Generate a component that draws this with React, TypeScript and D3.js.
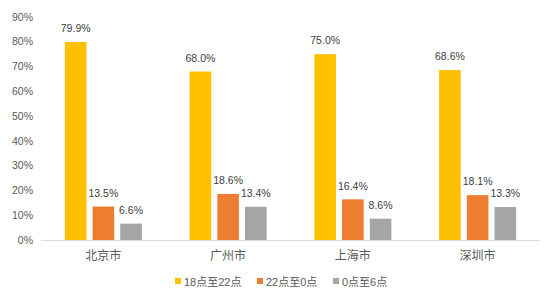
import React from "react";
import * as d3 from "d3";

const categories = ["北京市", "广州市", "上海市", "深圳市"];
const seriesNames = ["18点至22点", "22点至0点", "0点至6点"];
const s1 = [79.9, 68.0, 75.0, 68.6];
const s2 = [13.5, 18.6, 16.4, 18.1];
const s3 = [6.6, 13.4, 8.6, 13.3];
const yTicks = [0, 10, 20, 30, 40, 50, 60, 70, 80, 90];
const colors = ["#FFC000", "#ED7D31", "#A5A5A5"];

export default function App() {
  const W = 560, H = 298;
  const left = 41, right = 540, top = 17, bottom = 240;
  const font = "'Liberation Sans', 'Noto Sans CJK SC', sans-serif";
  const x = d3.scaleBand().domain(categories).range([left, right]).paddingInner(0).paddingOuter(0);
  const y = d3.scaleLinear().domain([0, 90]).range([bottom, top]);
  const groupW = 77;
  const inner = d3.scaleBand().domain(["0", "1", "2"]).range([0, groupW]).paddingInner(0.22).paddingOuter(0);
  const series = [s1, s2, s3];
  const legendX = [175, 257, 333];
  return (
    <svg width={W} height={H} style={{ position: "absolute", left: 0, top: 0, background: "#fff" }} fontFamily={font}>
      {yTicks.map((t) => (
        <text key={t} x={33} y={y(t)} dy="0.35em" textAnchor="end" fontSize={10.5} fill="#595959">
          {t}%
        </text>
      ))}
      {categories.map((c, ci) => {
        const gx = (x(c) as number) + x.bandwidth() / 2 - groupW / 2;
        return (
          <g key={c}>
            {series.map((s, si) => {
              const bx = gx + (inner(String(si)) as number);
              const bw = inner.bandwidth();
              return (
                <g key={si}>
                  <rect x={bx} y={y(s[ci])} width={bw} height={bottom - y(s[ci])} fill={colors[si]} />
                  <text x={bx + bw / 2} y={y(s[ci]) - 13.5} dy="0.35em" textAnchor="middle" fontSize={10.5} fill="#404040">
                    {s[ci].toFixed(1)}%
                  </text>
                </g>
              );
            })}
            <text x={(x(c) as number) + x.bandwidth() / 2} y={256} dy="0.35em" textAnchor="middle" fontSize={12} fill="#595959">
              {c}
            </text>
          </g>
        );
      })}
      <line x1={left} x2={right} y1={bottom + 0.5} y2={bottom + 0.5} stroke="#D9D9D9" strokeWidth={1} />
      {seriesNames.map((n, i) => (
        <g key={n}>
          <rect x={legendX[i]} y={278} width={6} height={6} fill={colors[i]} />
          <text x={legendX[i] + 9} y={282} dy="0.35em" fontSize={11} fill="#595959">
            {n}
          </text>
        </g>
      ))}
    </svg>
  );
}
